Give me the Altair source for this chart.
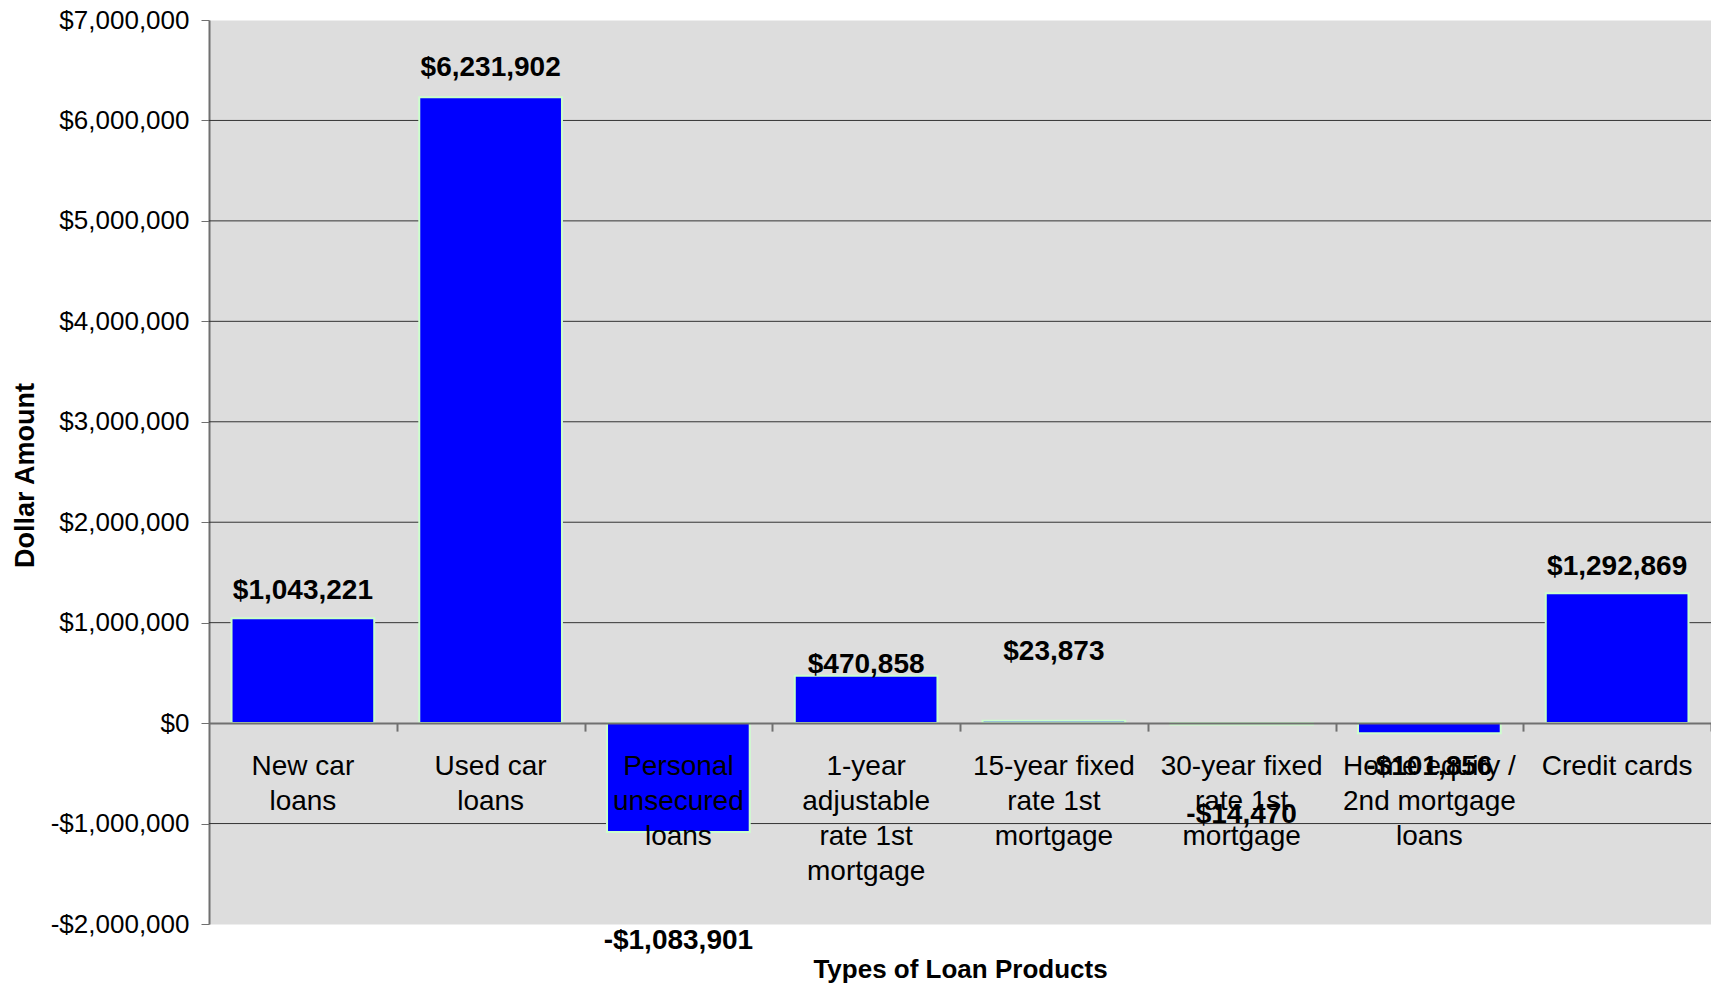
import altair as alt
import pandas as pd

FONT = "Liberation Sans"

categories = [
    "New car loans",
    "Used car loans",
    "Personal unsecured loans",
    "1-year adjustable rate 1st mortgage",
    "15-year fixed rate 1st mortgage",
    "30-year fixed rate 1st mortgage",
    "Home equity / 2nd mortgage loans",
    "Credit cards",
]
category_labels = [
    "New car\nloans",
    "Used car\nloans",
    "Personal\nunsecured\nloans",
    "1-year\nadjustable\nrate 1st\nmortgage",
    "15-year fixed\nrate 1st\nmortgage",
    "30-year fixed\nrate 1st\nmortgage",
    "Home equity /\n2nd mortgage\nloans",
    "Credit cards",
]
amounts = [1043221, 6231902, -1083901, 470858, 23873, -14470, -101856, 1292869]
# where each value label sits (in dollars on the y scale)
value_label_at = [1332000, 6538000, -2150000, 600000, 732000, -895000, -414000, 1572000]
gridline_values = [-1000000, 1000000, 2000000, 3000000, 4000000, 5000000, 6000000]
y_ticks = [-2000000, -1000000, 0, 1000000, 2000000, 3000000, 4000000, 5000000, 6000000, 7000000]

PLOT_W = 1502
PLOT_H = 904
N = len(categories)
STEP = PLOT_W / N


def money(v):
    return ("-$" if v < 0 else "$") + f"{abs(v):,}"


df = pd.DataFrame({
    "category": categories,
    "cat_label": category_labels,
    "amount": amounts,
    "label_at": value_label_at,
    "label": [money(v) for v in amounts],
    "zero": [0] * len(amounts),
})
grid_df = pd.DataFrame({"value": gridline_values})

x_scale = alt.Scale(domain=categories, paddingInner=0.24, paddingOuter=0.12)
y_scale = alt.Scale(domain=[-2000000, 7000000], nice=False, zero=False)

x_axis = alt.Axis(
    title="Types of Loan Products",
    labels=False,
    grid=False,
    domainColor="#707070",
    domainWidth=2,
    tickColor="#707070",
    tickWidth=2,
    tickSize=8,
    tickOffset=STEP / 2,
    offset=-(PLOT_H * 2 / 9),
    zindex=1,
    titleFont=FONT,
    titleFontSize=26,
    titleFontWeight="bold",
    titleColor="black",
    titleY=246,
    titleBaseline="middle",
)
y_axis = alt.Axis(
    title="Dollar Amount",
    values=y_ticks,
    labelExpr="(datum.value < 0 ? '-$' : '$') + format(abs(datum.value), ',')",
    labelFont=FONT,
    labelFontSize=26,
    labelColor="black",
    labelPadding=12,
    tickSize=8,
    tickColor="#707070",
    tickWidth=1,
    domainColor="#707070",
    domainWidth=2,
    grid=False,
    titleFont=FONT,
    titleFontSize=27,
    titleFontWeight="bold",
    titleColor="black",
    titleAngle=270,
    titleX=-184,
    titleY=455,
    titleAlign="center",
    titleBaseline="middle",
)

X = alt.X("category:N", sort=categories, scale=x_scale, axis=x_axis)

grid = alt.Chart(grid_df).mark_rule(color="#333333", strokeWidth=1).encode(
    y=alt.Y("value:Q", scale=y_scale, axis=y_axis)
)

bars = alt.Chart(df).mark_bar(color="#0000FF", stroke="#CCFFCC", strokeWidth=2).encode(
    x=X,
    y=alt.Y("amount:Q", scale=y_scale, axis=y_axis),
    y2="zero:Q",
)

cat_text = alt.Chart(df).mark_text(
    font=FONT, fontSize=28, color="black", baseline="alphabetic", align="center",
    dy=52, lineBreak="\n", lineHeight=35,
).encode(
    x=X,
    y=alt.Y("zero:Q", scale=y_scale, axis=y_axis),
    text="cat_label:N",
)

val_text = alt.Chart(df).mark_text(
    font=FONT, fontSize=28, fontWeight="bold", color="black", baseline="middle", align="center",
    dy=2,
).encode(
    x=X,
    y=alt.Y("label_at:Q", scale=y_scale, axis=y_axis),
    text="label:N",
)

chart = alt.layer(grid, bars, cat_text, val_text).properties(
    width=PLOT_W,
    height=PLOT_H,
    autosize=alt.AutoSizeParams(type="none"),
    padding={"left": 201, "top": 12, "right": 0, "bottom": 62},
    background="white",
).configure_view(fill="#DDDDDD", stroke="transparent")

chart.save("out.html", embed_options={"renderer": "svg", "actions": False})
